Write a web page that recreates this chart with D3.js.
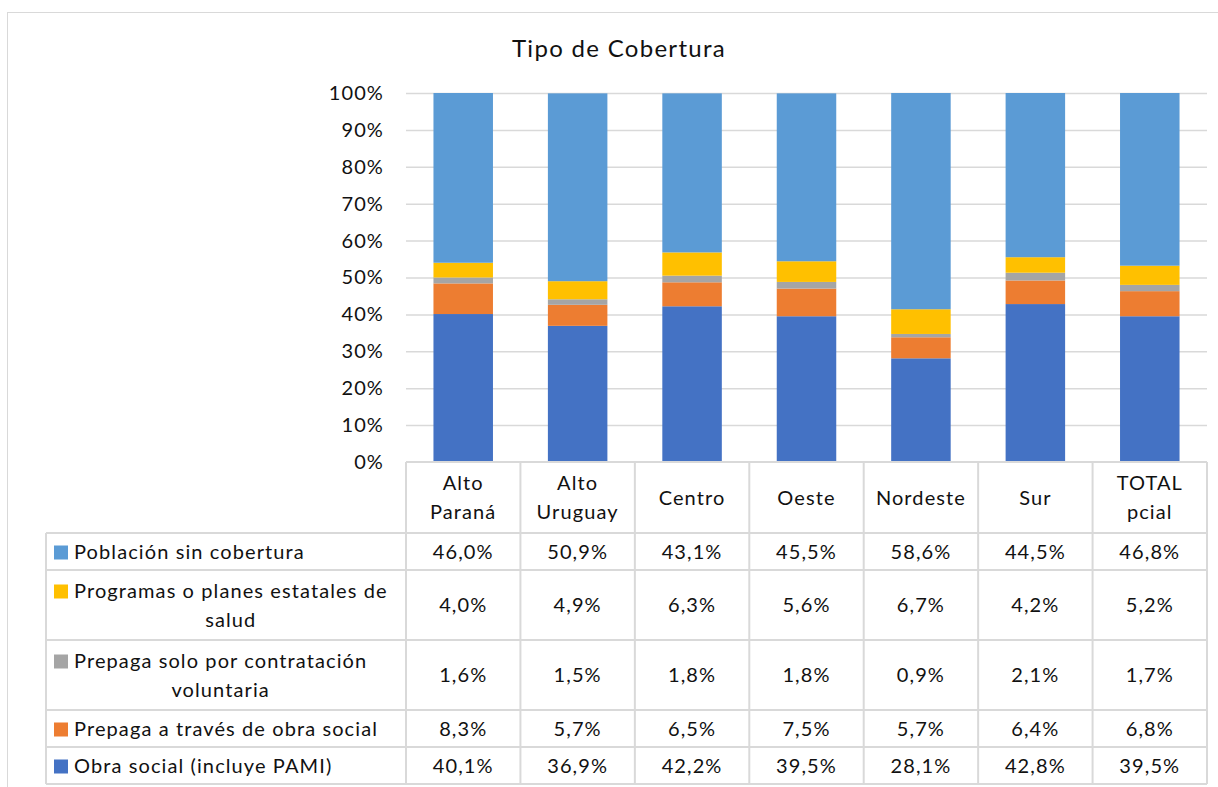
<!DOCTYPE html>
<html>
<head>
<meta charset="utf-8">
<script src="https://cdn.jsdelivr.net/npm/d3@7"></script>
<style>
  body { margin: 0; background: #fff; }
  svg { font-family: Lato, "Open Sans", sans-serif; }
</style>
</head>
<body>
<svg id="chart" width="1218" height="787"></svg>
<script>
(function () {
    // regions
    var categories = [["Alto", "Paraná"], ["Alto", "Uruguay"], ["Centro"], ["Oeste"], ["Nordeste"], ["Sur"], ["TOTAL", "pcial"]];

    // series, bottom of stack first
    var seriesNames = [
        ["Obra social (incluye PAMI)"],
        ["Prepaga a través de obra social"],
        ["Prepaga solo por contratación", "voluntaria"],
        ["Programas o planes estatales de", "salud"],
        ["Población sin cobertura"]
    ];
    var seriesColors = ["#4472C4", "#ED7D31", "#A5A5A5", "#FFC000", "#5B9BD5"];

    var obraSocial     = [40.1, 36.9, 42.2, 39.5, 28.1, 42.8, 39.5];
    var prepagaObra    = [8.3, 5.7, 6.5, 7.5, 5.7, 6.4, 6.8];
    var prepagaVol     = [1.6, 1.5, 1.8, 1.8, 0.9, 2.1, 1.7];
    var programas      = [4.0, 4.9, 6.3, 5.6, 6.7, 4.2, 5.2];
    var sinCobertura   = [46.0, 50.9, 43.1, 45.5, 58.6, 44.5, 46.8];
    var seriesValues = [obraSocial, prepagaObra, prepagaVol, programas, sinCobertura];

    var yTicks = [0, 10, 20, 30, 40, 50, 60, 70, 80, 90, 100];

    var svg = d3.select('#chart');
    var fontSize = 20;
    var spacing = 1.1;
    var textColor = '#111';
    var lineColor = '#D9D9D9';

    var esLocale = d3.formatLocale({decimal: ",", thousands: ".", grouping: [3], currency: ["", "€"]});
    var fmt = esLocale.format(".1f");

    var catKeys = categories.map(function (c) { return c.join(' '); });

    // chart border
    svg.append('rect')
        .attr('x', 7.5).attr('y', 12.5)
        .attr('width', 1220).attr('height', 800)
        .attr('fill', 'none').attr('stroke', lineColor);

    // title
    svg.append('text')
        .attr('x', 619).attr('y', 57)
        .attr('text-anchor', 'middle')
        .attr('font-size', 24)
        .attr('letter-spacing', 1.3)
        .attr('fill', textColor)
        .text('Tipo de Cobertura');

    var plotLeft = 406, plotRight = 1207, plotTop = 93, plotBottom = 462;

    var colScale = d3.scaleBand().domain(catKeys).range([plotLeft, plotRight]);
    var xScale = d3.scaleBand().domain(catKeys).range([plotLeft, plotRight])
        .paddingInner(0.48).paddingOuter(0.24);
    var yScale = d3.scaleLinear().domain([0, 100]).range([plotBottom, plotTop]);

    // gridlines
    svg.append('g').selectAll('line')
        .data(yTicks.slice(1))
        .enter().append('line')
        .attr('x1', plotLeft).attr('x2', plotRight)
        .attr('y1', function (d) { return yScale(d) + 0.5; })
        .attr('y2', function (d) { return yScale(d) + 0.5; })
        .attr('stroke', lineColor).attr('stroke-width', 1.5);

    // y axis labels
    var yAxis = d3.axisLeft(yScale).tickValues(yTicks)
        .tickFormat(function (d) { return d + '%'; })
        .tickSize(0).tickPadding(0);
    var yAxisGroup = svg.append('g')
        .attr('transform', 'translate(384,0)')
        .call(yAxis);
    yAxisGroup.select('.domain').remove();
    yAxisGroup.selectAll('text')
        .attr('font-family', 'Lato, sans-serif')
        .attr('font-size', fontSize)
        .attr('letter-spacing', spacing)
        .attr('fill', textColor);

    // stacked bars
    var rows = catKeys.map(function (k, i) {
        var r = {key: k};
        seriesValues.forEach(function (s, j) { r['s' + j] = s[i]; });
        return r;
    });
    var stack = d3.stack().keys(seriesValues.map(function (s, j) { return 's' + j; }));
    var stacked = stack(rows);

    svg.append('g').selectAll('g')
        .data(stacked)
        .enter().append('g')
        .attr('fill', function (d, j) { return seriesColors[j]; })
        .selectAll('rect')
        .data(function (d) { return d; })
        .enter().append('rect')
        .attr('x', function (d) { return xScale(d.data.key); })
        .attr('width', xScale.bandwidth())
        .attr('y', function (d) { return yScale(d[1]); })
        .attr('height', function (d) { return yScale(d[0]) - yScale(d[1]); });

    // data table
    var lineH = 29;
    var headerTop = plotBottom, headerBottom = 533;
    var tableLeft = 46;
    var table = svg.append('g')
        .attr('font-size', fontSize)
        .attr('letter-spacing', spacing)
        .attr('fill', textColor);

    // header cells
    categories.forEach(function (c, i) {
        var cx = colScale(catKeys[i]) + colScale.bandwidth() / 2;
        var cy = (headerTop + headerBottom) / 2;
        var t = table.append('text')
            .attr('text-anchor', 'middle');
        c.forEach(function (line, li) {
            t.append('tspan')
                .attr('x', cx)
                .attr('y', cy + (li - (c.length - 1) / 2) * lineH + 7)
                .text(line);
        });
    });

    // body rows, top row is the top of the stack
    var order = d3.range(seriesValues.length).reverse();
    var y = headerBottom;
    var rowEdges = [headerBottom];
    order.forEach(function (j) {
        var name = seriesNames[j];
        var h = name.length > 1 ? 70 : 37;
        var cy = y + h / 2;

        // legend cell
        var swatchX = 54, textX = 74;
        var firstY = cy - (name.length - 1) * lineH / 2 + 7;
        table.append('rect')
            .attr('x', swatchX).attr('y', firstY - 13)
            .attr('width', 14).attr('height', 14)
            .attr('fill', seriesColors[j]);
        var first = table.append('text')
            .attr('x', textX).attr('y', firstY)
            .text(name[0]);
        var w = first.node().getComputedTextLength();
        name.slice(1).forEach(function (line, li) {
            table.append('text')
                .attr('x', textX + w / 2)
                .attr('y', firstY + (li + 1) * lineH)
                .attr('text-anchor', 'middle')
                .text(line);
        });

        // value cells
        table.append('g').selectAll('text')
            .data(seriesValues[j])
            .enter().append('text')
            .attr('x', function (d, i) { return colScale(catKeys[i]) + colScale.bandwidth() / 2; })
            .attr('y', cy + 7)
            .attr('text-anchor', 'middle')
            .text(function (d) { return fmt(d) + '%'; });

        y += h;
        rowEdges.push(y);
    });

    // table grid lines
    table.append('line')
        .attr('x1', plotLeft).attr('x2', plotRight)
        .attr('y1', headerTop).attr('y2', headerTop)
        .attr('stroke', lineColor).attr('stroke-width', 2);
    table.selectAll('.hline')
        .data(rowEdges)
        .enter().append('line')
        .attr('x1', tableLeft).attr('x2', plotRight)
        .attr('y1', function (d) { return d; }).attr('y2', function (d) { return d; })
        .attr('stroke', lineColor).attr('stroke-width', 2);
    var colEdges = catKeys.map(function (k) { return colScale(k); }).concat([plotRight]);
    table.selectAll('.vline')
        .data(colEdges)
        .enter().append('line')
        .attr('x1', function (d) { return d; }).attr('x2', function (d) { return d; })
        .attr('y1', headerTop).attr('y2', y)
        .attr('stroke', lineColor).attr('stroke-width', 2);
    table.append('line')
        .attr('x1', tableLeft).attr('x2', tableLeft)
        .attr('y1', headerBottom).attr('y2', y)
        .attr('stroke', lineColor).attr('stroke-width', 2);
})();
</script>
</body>
</html>
